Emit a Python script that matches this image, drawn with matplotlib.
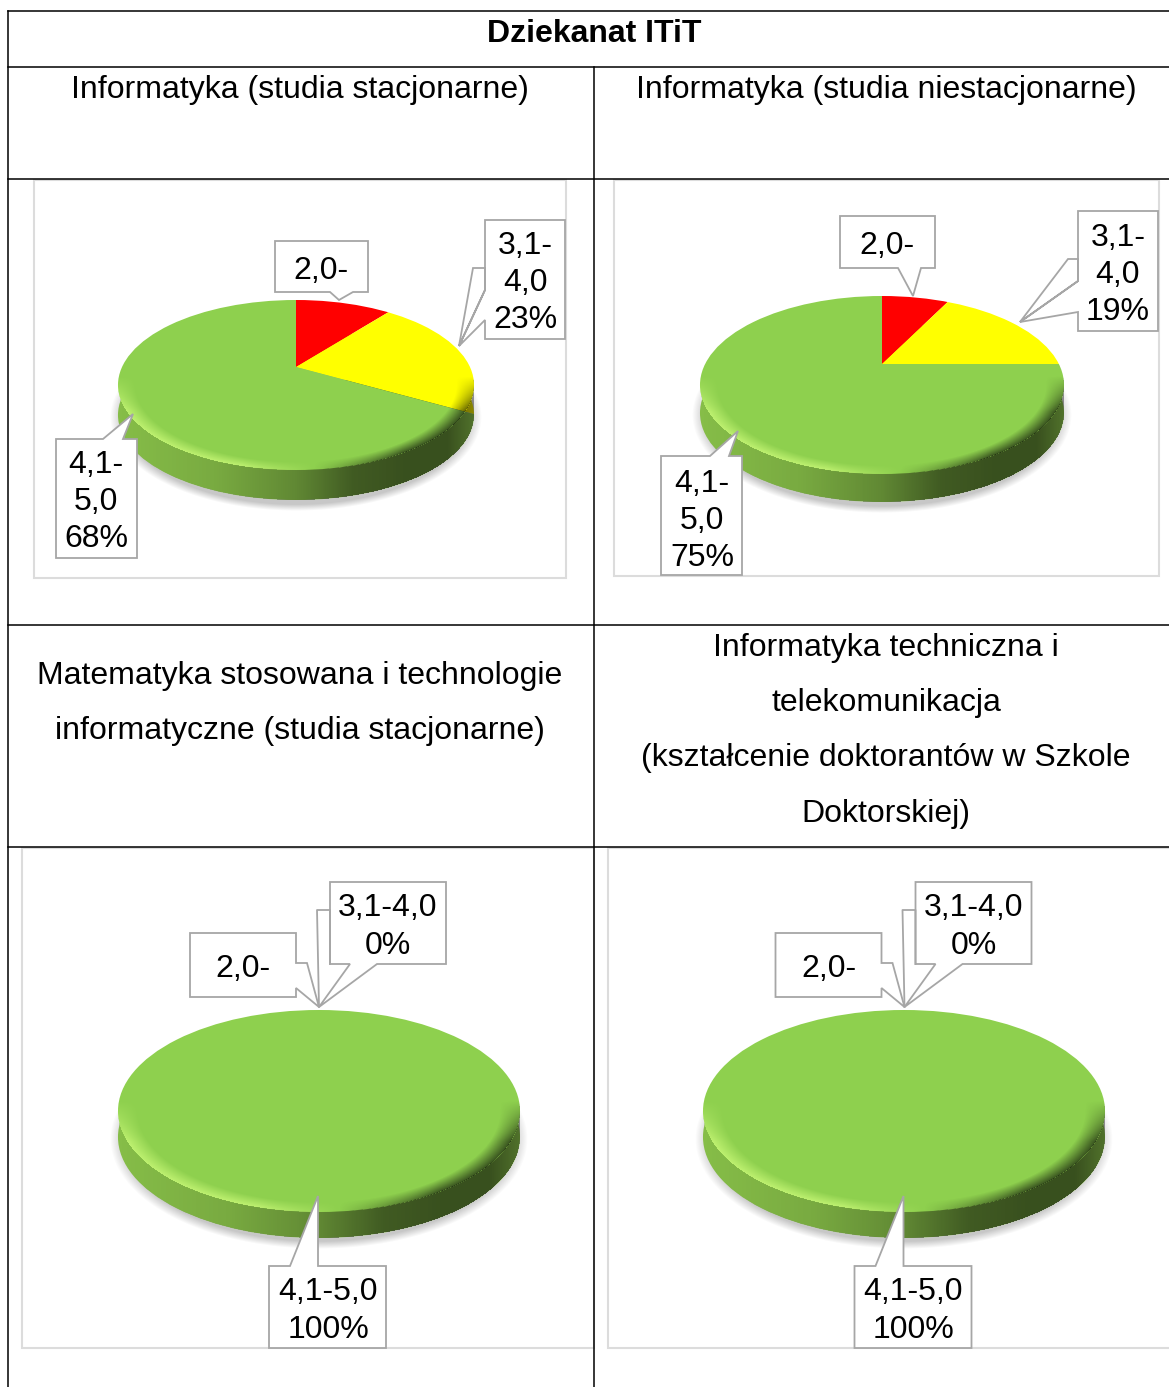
import numpy as np
import matplotlib
matplotlib.use("Agg")
import matplotlib.pyplot as plt
from matplotlib.patches import Polygon, Rectangle, Ellipse

W, H = 1169, 1387
plt.rcParams['font.family'] = ['Liberation Sans', 'DejaVu Sans']

title = "Dziekanat ITiT"
headers = ["Informatyka (studia stacjonarne)", "Informatyka (studia niestacjonarne)"]
categories = ["2,0-", "3,1-4,0", "4,1-5,0"]
values_a = [9, 23, 68]
values_b = [6, 19, 75]
values_c = [0, 0, 100]
values_d = [0, 0, 100]
top_colors = ["#ff0000", "#ffff00", "#8ed04e"]
side_colors = ["#e00000", "#e8e000", "#86bd48"]

fig = plt.figure(figsize=(W/100, H/100), dpi=100, facecolor="white")
bg = fig.add_axes([0, 0, 1, 1])
bg.set_xlim(0, W); bg.set_ylim(H, 0); bg.axis("off"); bg.set_zorder(0)

for x0,y0,x1,y1 in [(34,180,566,578),(614,180,1159,576),(22,848,594,1348),(608,848,1175,1348)]:
    bg.add_patch(Rectangle((x0,y0),x1-x0,y1-y0,fc="white",ec="#dcdcdc",lw=1.5,zorder=1.5))
for x0, y0, x1, y1 in [(8,11,1169,11),(8,67,1169,67),(8,179,1169,179),(8,625,1169,625),(8,847,1169,847),
                       (8,11,8,1387),(594,67,594,1387)]:
    bg.plot([x0,x1],[y0,y1],color="black",lw=1.1,zorder=3)

fs = 23.0
dy = 3
bg.text(594,31+dy,title,ha="center",va="center",fontsize=fs,fontweight="bold")
bg.text(300,87+dy,headers[0],ha="center",va="center",fontsize=fs)
bg.text(886,87+dy,headers[1],ha="center",va="center",fontsize=fs)
bg.text(300,673+dy,"Matematyka stosowana i technologie",ha="center",va="center",fontsize=fs)
bg.text(300,728+dy,"informatyczne (studia stacjonarne)",ha="center",va="center",fontsize=fs)
for y,t in zip([645,700,755,811],["Informatyka techniczna i","telekomunikacja","(kształcenie doktorantów w Szkole","Doktorskiej)"]):
    bg.text(886,y+dy,t,ha="center",va="center",fontsize=fs)

yy, xx = np.mgrid[0:H, 0:W] + 0.5
shadow_a = np.zeros((H, W))
side_rgba = np.zeros((H, W, 4))
bevel_rgba = np.zeros((H, W, 4))
STRETCH = 1.5

def half_axes(cx, ay, rx, ry, upper, z):
    # axes hold one half of the pie, apex on their edge, with room for the outer radius
    hh = ry*STRETCH
    top = ay if upper else ay+hh
    a = fig.add_axes([(cx-rx*STRETCH)/W, 1-top/H, 2*rx*STRETCH/W, hh/H])
    a.set_zorder(z); a.patch.set_alpha(0)
    return a

def draw_pie(a, values, cols, upper, clip):
    wedges, _ = a.pie(values, colors=cols, startangle=90, counterclock=False, radius=STRETCH, wedgeprops=dict(lw=0))
    a.set_aspect("auto"); a.set_xlim(-STRETCH, STRETCH)
    a.set_ylim(0, STRETCH) if upper else a.set_ylim(-STRETCH, 0)
    a.axis("off")
    for w in wedges:
        w.set_clip_on(True)
        w.set_clip_box(a.bbox)
        w.set_clip_path(clip)

def pie3d(values, cx, ay, ce, rx, ry, ry_up, ry_dn, depth):
    # ay: apex row, ce: rim ellipse centre row; rim is clipped to the true ellipse
    for upper, r in [(True, ry_up), (False, ry_dn)]:
        # the tiny width change keeps Agg from reusing the clip mask cached for the other half
        eps = 0.0 if upper else 0.02
        side_clip = Ellipse((cx, ce+depth), 2*rx+eps, 2*ry, transform=bg.transData)
        top_clip = Ellipse((cx, ce), 2*rx+eps, 2*ry, transform=bg.transData)
        draw_pie(half_axes(cx, ay, rx, r, upper, 2), values, side_colors, upper, side_clip)
        draw_pie(half_axes(cx, ay, rx, r, upper, 4), values, top_colors, upper, top_clip)
    nx = (xx-cx)/rx
    # soft shadow under the body
    sr = np.sqrt(((xx-cx)/(rx+8))**2 + ((yy-ce-depth-2)/(ry+9))**2)
    shadow_a[:] = np.maximum(shadow_a, 0.22*np.clip((1-sr)/0.07, 0, 1))
    # side shading: light at left, dark toward the right
    ny = (yy-ce-depth)/ry
    inside = (nx**2+np.where(yy-ce-depth > 0, ny, 0)**2 <= 1.0) & (yy >= ce-5)
    stops_x = [-1.0, -0.45, 0.0, 0.32, 0.62, 0.85, 1.0]
    stops_a = [0.00, 0.10, 0.28, 0.52, 0.58, 0.58, 0.40]
    al = np.interp(nx, stops_x, stops_a)
    side_rgba[..., 3] = np.where(inside, al, side_rgba[..., 3])
    # bevel along the top face rim
    fy = (yy-ce)/ry
    r = np.sqrt(nx**2 + fy**2)
    band = np.clip((r-0.90)/0.10, 0, 1)*(r <= 1.0)
    low = np.clip((fy+0.10)/0.4, 0, 1)
    light = band*low*np.clip((0.10-nx)/0.4, 0, 1)*0.70
    dark = band*low*np.clip((nx-0.10)/0.5, 0, 1)*0.60
    mask = r <= 1.02
    is_light = mask & (light > 0)
    bevel_rgba[..., 0] = np.where(is_light, 0.83, bevel_rgba[..., 0])
    bevel_rgba[..., 1] = np.where(is_light, 1.00, bevel_rgba[..., 1])
    bevel_rgba[..., 2] = np.where(is_light, 0.50, bevel_rgba[..., 2])
    bevel_rgba[..., 3] = np.where(mask, np.maximum(light, dark), bevel_rgba[..., 3])

pie3d(values_a, 296, 367, 385, 178, 85, 67, 100, 30)
pie3d(values_b, 882, 364, 385, 182, 89, 68, 105, 28)
pie3d(values_c, 319, 1111, 1111, 201, 101, 101, 99, 26)
pie3d(values_d, 904, 1111, 1111, 201, 101, 101, 99, 26)

bg.imshow(np.dstack([np.zeros((H, W, 3)), shadow_a]), extent=(0, W, H, 0), zorder=2, aspect="auto", interpolation="nearest")
bg.set_xlim(0, W); bg.set_ylim(H, 0)

def overlay(arr, z):
    a = fig.add_axes([0, 0, 1, 1]); a.set_zorder(z); a.patch.set_alpha(0); a.axis("off")
    a.imshow(arr, extent=(0, W, H, 0), aspect="auto", interpolation="bilinear")
    a.set_xlim(0, W); a.set_ylim(H, 0)
overlay(side_rgba, 3)
overlay(bevel_rgba, 5)

fg = fig.add_axes([0,0,1,1]); fg.set_xlim(0,W); fg.set_ylim(H,0); fg.axis("off"); fg.set_zorder(6); fg.patch.set_alpha(0)
EC = "#a6a6a6"

def callout(pts, lines, center, extra=None, lh=37):
    fg.add_patch(Polygon(pts, closed=True, fc="white", ec=EC, lw=1.3, zorder=6))
    if extra:
        fg.plot(*zip(*extra), color=EC, lw=1.3, zorder=6)
    cx, cy = center
    n = len(lines)
    for i, l in enumerate(lines):
        fg.text(cx, cy+(i-(n-1)/2)*lh+4, l, ha="center", va="center", fontsize=fs, zorder=7)

callout([(275,241),(368,241),(368,292),(353,292),(339,300),(330,292),(275,292)],["2,0-"],(321,267))
callout([(485,220),(565,220),(565,339),(485,339),(485,320),(459,346),(485,290),(485,268),(473,268),(459,346),(485,290)],
        ["3,1-","4,0","23%"],(525,279))
callout([(56,439),(103,439),(133,414),(123,439),(137,439),(137,558),(56,558)],["4,1-","5,0","68%"],(96,498))

callout([(840,216),(935,216),(935,268),(921,268),(913,296),(898,268),(840,268)],["2,0-"],(887,242))
callout([(1078,211),(1158,211),(1158,331),(1078,331),(1078,312),(1020,322),(1078,281),(1078,259),(1068,259),(1020,322),(1078,281)],
        ["3,1-","4,0","19%"],(1118,271))
callout([(661,456),(710,456),(738,431),(729,456),(742,456),(742,575),(661,575)],["4,1-","5,0","75%"],(702,517))

for dx in (0, 585.5):
    tip = (319+dx,1007)
    callout([(190+dx,933),(296+dx,933),(296+dx,963),(307+dx,963),tip,(296+dx,988),(296+dx,997),(190+dx,997)],["2,0-"],(243+dx,965))
    callout([(330+dx,882),(446+dx,882),(446+dx,964),(377+dx,964),tip,(350+dx,964),(330+dx,964)],["3,1-4,0","0%"],(388+dx,923),
            extra=[(330+dx,964),(330+dx,910),(317+dx,910),tip])
    callout([(269+dx,1266),(290+dx,1266),(318+dx,1196),(318+dx,1266),(386+dx,1266),(386+dx,1348),(269+dx,1348)],["4,1-5,0","100%"],(328+dx,1307))

fig.savefig("out.png", dpi=100)
